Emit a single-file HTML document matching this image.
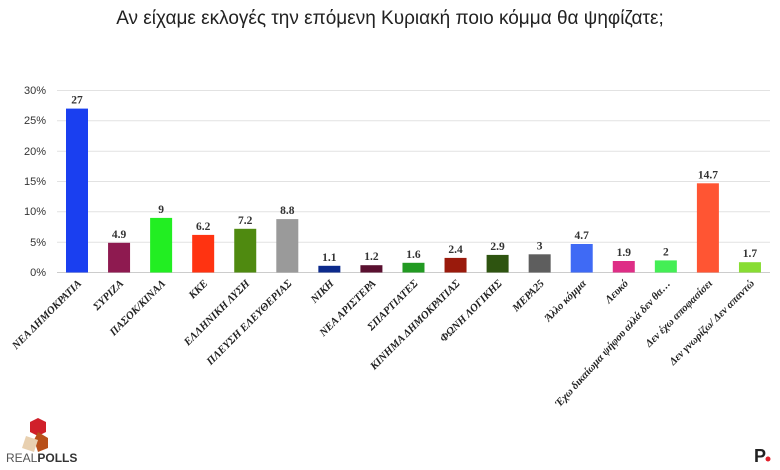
<!DOCTYPE html>
<html><head><meta charset="utf-8"><style>
body{margin:0;background:#fff;}
svg{display:block;}
.v{font-family:"Liberation Serif","DejaVu Serif",serif;font-size:11.5px;font-weight:bold;fill:#333;text-anchor:middle;}
.l{font-family:"Liberation Serif","DejaVu Serif",serif;font-style:italic;font-weight:bold;font-size:10.8px;fill:#222;text-anchor:end;}
</style></head><body>
<svg width="780" height="470" xmlns="http://www.w3.org/2000/svg">
<rect width="780" height="470" fill="#fff"/>
<text x="390" y="24" text-anchor="middle" font-family="Liberation Sans, DejaVu Sans, sans-serif" font-size="19" fill="#222">Αν είχαμε εκλογές την επόμενη Κυριακή ποιο κόμμα θα ψηφίζατε;</text>
<g stroke="#e2e2e2" stroke-width="1">
<line x1="57" x2="770" y1="90.5" y2="90.5"/>
<line x1="57" x2="770" y1="120.8" y2="120.8"/>
<line x1="57" x2="770" y1="151.2" y2="151.2"/>
<line x1="57" x2="770" y1="181.5" y2="181.5"/>
<line x1="57" x2="770" y1="211.8" y2="211.8"/>
<line x1="57" x2="770" y1="242.2" y2="242.2"/>
</g>
<line x1="57" x2="770" y1="272.5" y2="272.5" stroke="#ccc"/>
<g font-family="Liberation Sans, sans-serif" font-size="11" fill="#333" text-anchor="end">
<text x="46" y="94">30%</text><text x="46" y="124">25%</text><text x="46" y="155">20%</text>
<text x="46" y="185">15%</text><text x="46" y="215">10%</text><text x="46" y="246">5%</text><text x="46" y="276">0%</text>
</g>
<rect x="66" y="108.6" width="22" height="163.9" fill="#1a3ff0"/>
<rect x="108.06" y="242.8" width="22" height="29.7" fill="#8e1a50"/>
<rect x="150.12" y="217.9" width="22" height="54.6" fill="#22ee22"/>
<rect x="192.18" y="234.9" width="22" height="37.6" fill="#ff3311"/>
<rect x="234.24" y="228.8" width="22" height="43.7" fill="#4f8a10"/>
<rect x="276.3" y="219.1" width="22" height="53.4" fill="#9a9a9a"/>
<rect x="318.36" y="265.8" width="22" height="6.7" fill="#0c2a8c"/>
<rect x="360.42" y="265.2" width="22" height="7.3" fill="#5a1030"/>
<rect x="402.48" y="262.8" width="22" height="9.7" fill="#229a22"/>
<rect x="444.54" y="257.9" width="22" height="14.6" fill="#9a1a0c"/>
<rect x="486.6" y="254.9" width="22" height="17.6" fill="#2e5410"/>
<rect x="528.66" y="254.3" width="22" height="18.2" fill="#5e5e5e"/>
<rect x="570.72" y="244" width="22" height="28.5" fill="#3f6af5"/>
<rect x="612.78" y="261" width="22" height="11.5" fill="#de2e86"/>
<rect x="654.84" y="260.4" width="22" height="12.1" fill="#44ee55"/>
<rect x="696.9" y="183.3" width="22" height="89.2" fill="#ff5533"/>
<rect x="738.96" y="262.2" width="22" height="10.3" fill="#88dd33"/>
<text class="v" x="77" y="103.6">27</text>
<text class="v" x="119.06" y="237.8">4.9</text>
<text class="v" x="161.12" y="212.9">9</text>
<text class="v" x="203.18" y="229.9">6.2</text>
<text class="v" x="245.24" y="223.8">7.2</text>
<text class="v" x="287.3" y="214.1">8.8</text>
<text class="v" x="329.36" y="260.8">1.1</text>
<text class="v" x="371.42" y="260.2">1.2</text>
<text class="v" x="413.48" y="257.8">1.6</text>
<text class="v" x="455.54" y="252.9">2.4</text>
<text class="v" x="497.6" y="249.9">2.9</text>
<text class="v" x="539.66" y="249.3">3</text>
<text class="v" x="581.72" y="239">4.7</text>
<text class="v" x="623.78" y="256">1.9</text>
<text class="v" x="665.84" y="255.4">2</text>
<text class="v" x="707.9" y="178.3">14.7</text>
<text class="v" x="749.96" y="257.2">1.7</text>
<text class="l" transform="translate(82,284) rotate(-45)">ΝΕΑ ΔΗΜΟΚΡΑΤΙΑ</text>
<text class="l" transform="translate(124.06,284) rotate(-45)">ΣΥΡΙΖΑ</text>
<text class="l" transform="translate(166.12,284) rotate(-45)">ΠΑΣΟΚ/ΚΙΝΑΛ</text>
<text class="l" transform="translate(208.18,284) rotate(-45)">ΚΚΕ</text>
<text class="l" transform="translate(250.24,284) rotate(-45)">ΕΛΛΗΝΙΚΗ ΛΥΣΗ</text>
<text class="l" transform="translate(292.3,284) rotate(-45)">ΠΛΕΥΣΗ ΕΛΕΥΘΕΡΙΑΣ</text>
<text class="l" transform="translate(334.36,284) rotate(-45)">ΝΙΚΗ</text>
<text class="l" transform="translate(376.42,284) rotate(-45)">ΝΕΑ ΑΡΙΣΤΕΡΑ</text>
<text class="l" transform="translate(418.48,284) rotate(-45)">ΣΠΑΡΤΙΑΤΕΣ</text>
<text class="l" transform="translate(460.54,284) rotate(-45)">ΚΙΝΗΜΑ ΔΗΜΟΚΡΑΤΙΑΣ</text>
<text class="l" transform="translate(502.6,284) rotate(-45)">ΦΩΝΗ ΛΟΓΙΚΗΣ</text>
<text class="l" transform="translate(544.66,284) rotate(-45)">ΜΕΡΑ25</text>
<text class="l" transform="translate(586.72,284) rotate(-45)">Άλλο κόμμα</text>
<text class="l" transform="translate(628.78,284) rotate(-45)">Λευκό</text>
<text class="l" transform="translate(670.84,284) rotate(-48)">Έχω δικαίωμα ψήφου αλλά δεν θα…</text>
<text class="l" transform="translate(712.9,284) rotate(-45)">Δεν έχω αποφασίσει</text>
<text class="l" transform="translate(754.96,284) rotate(-45)">Δεν γνωρίζω/ Δεν απαντώ</text>
<g>
<polygon points="38,418 46,422 46,432 38,436 30,432 30,422" fill="#d0202a"/>
<polygon points="38,432 48,438 48,448 38,452 34,440" fill="#b8501a"/>
<polygon points="26,436 38,440 34,452 22,448" fill="#e8d0b0"/>
<text x="6" y="462" font-family="Liberation Sans, sans-serif" font-size="12" fill="#555">REAL<tspan font-weight="bold" fill="#333">POLLS</tspan></text>
</g>
<text x="754" y="462" font-family="Liberation Sans, sans-serif" font-size="18" font-weight="bold" fill="#222">P</text>
<circle cx="768" cy="459" r="2.5" fill="#e0202a"/>
</svg>
</body></html>
